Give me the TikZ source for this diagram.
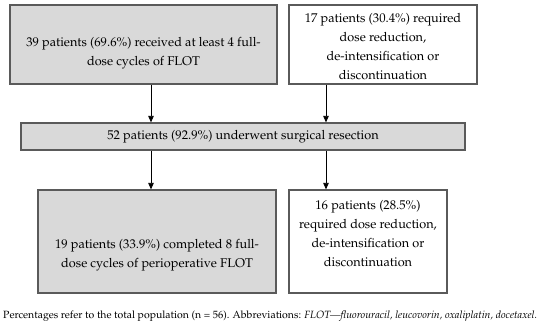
\documentclass[tikz,border=0pt]{standalone}
\usepackage[T1]{fontenc}
\usepackage{mathpazo}
\usetikzlibrary{arrows.meta}
\definecolor{boxgray}{HTML}{D9D9D9}
\definecolor{edgegray}{HTML}{5A5A5A}
\begin{document}
\begin{tikzpicture}[x=1pt,y=-1pt,
  boxbase/.style={draw=edgegray, line width=1.2pt, rectangle, inner sep=0pt},
  graybox/.style={boxbase, fill=boxgray},
  whitebox/.style={boxbase, fill=white},
  txt/.style={align=center, inner sep=0pt, font=\fontsize{12.7}{19}\selectfont},
  arr/.style={draw=black, line width=0.8pt, -{Triangle[length=6.5pt,width=5.5pt]}},
  captext/.style={anchor=west, inner sep=0pt, font=\fontsize{10.5}{12}\selectfont}]
\path[use as bounding box, fill=white] (0,0) rectangle (550,327);
% boxes
\node[graybox, minimum width=267pt, minimum height=79pt] (b1) at (143.5,44.5) {};
\node[whitebox, minimum width=188pt, minimum height=79pt] (b2) at (383,44.5) {};
\node[graybox, minimum width=444pt, minimum height=27pt] (mid) at (243,136.5) {};
\node[graybox, minimum width=238pt, minimum height=103pt] (b3) at (157,241.5) {};
\node[whitebox, minimum width=158pt, minimum height=103pt] (b4) at (368,241.5) {};
% texts
\node[txt] (t1) at (143.5,53) {39 patients (69.6\%) received at least 4 full-\\dose cycles of FLOT};
\node[txt] (t2) at (383,47) {17 patients (30.4\%) required\\dose reduction,\\de-intensification or\\discontinuation};
\node[txt] (tm) at (243,137) {52 patients (92.9\%) underwent surgical resection};
\node[txt] (t3) at (157,255) {19 patients (33.9\%) completed 8 full-\\dose cycles of perioperative FLOT};
\node[txt] (t4) at (368,233.5) {16 patients (28.5\%)\\required dose reduction,\\de-intensification or\\discontinuation};
% arrow columns
\coordinate (ax1) at (151,0);
\coordinate (ax2) at (326,0);
\draw[arr] (b1.south -| ax1) -- (mid.north -| ax1);
\draw[arr] (b2.south -| ax2) -- (mid.north -| ax2);
\draw[arr] (mid.south -| ax1) -- (b3.north -| ax1);
\draw[arr] (mid.south -| ax2) -- (b4.north -| ax2);
% caption
\node[captext] (caption) at (3,316.5) {Percentages refer to the total population (n = 56). Abbreviations: \textit{FLOT---fluorouracil, leucovorin, oxaliplatin, docetaxel.}};
\end{tikzpicture}
\end{document}
